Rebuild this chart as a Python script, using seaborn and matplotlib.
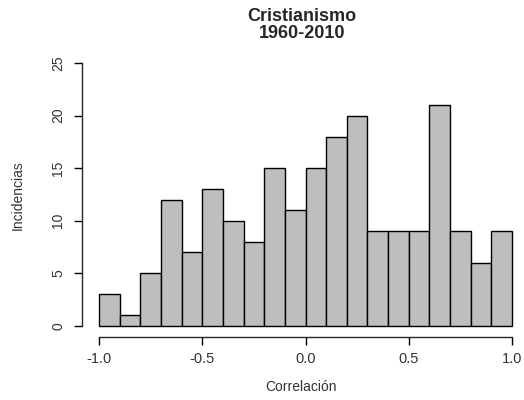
import numpy as np
import matplotlib
matplotlib.use("Agg")
import matplotlib.pyplot as plt
import seaborn as sns

bin_edges = [-1.0, -0.9, -0.8, -0.7, -0.6, -0.5, -0.4, -0.3, -0.2, -0.1, 0.0,
             0.1, 0.2, 0.3, 0.4, 0.5, 0.6, 0.7, 0.8, 0.9, 1.0]
counts = [3, 1, 5, 12, 7, 13, 10, 8, 15, 11, 15, 18, 20, 9, 9, 9, 21, 9, 6, 9]
x_ticks = [-1.0, -0.5, 0.0, 0.5, 1.0]
y_ticks = [0, 5, 10, 15, 20, 25]

centers = [(bin_edges[i] + bin_edges[i + 1]) / 2 for i in range(len(counts))]

sns.set_style("ticks")
plt.rcParams['font.family'] = ['Liberation Sans', 'DejaVu Sans']

W, H = 524, 400
fig = plt.figure(figsize=(W / 100, H / 100), dpi=100)
ax = fig.add_axes([82 / W, (H - 337) / H, (520 - 82) / W, (337 - 50) / H])

sns.histplot(x=centers, weights=counts, bins=bin_edges, color='#BEBEBE',
             edgecolor='black', linewidth=1.0, alpha=1, ax=ax)

ppu_x = (512 - 99) / 2.0
ppu_y = (326 - 63) / 25.0
ax.set_xlim(-1.0 - (99 - 82) / ppu_x, 1.0 + (520 - 512) / ppu_x)
ax.set_ylim(-(337 - 326) / ppu_y, 25 + (63 - 50) / ppu_y)

for s in ['top', 'right']:
    ax.spines[s].set_visible(False)
ax.spines['left'].set_bounds(0, 25)
ax.spines['bottom'].set_bounds(-1, 1)
ax.spines['left'].set_linewidth(1.0)
ax.spines['bottom'].set_linewidth(1.0)

ax.set_xticks(x_ticks)
ax.set_xticklabels(['-1.0', '-0.5', '0.0', '0.5', '1.0'], fontsize=10.5)
ax.set_yticks(y_ticks)
ax.set_yticklabels([str(v) for v in y_ticks], fontsize=10, rotation=90, va='center')
ax.tick_params(length=6, width=1.0, pad=5, colors='black')
ax.tick_params(axis='y', labelcolor='#333333', pad=6)
ax.tick_params(axis='x', labelcolor='#333333')

ax.set_xlabel('')
ax.set_ylabel('')
fig.text(18 / W, 1 - 195 / H, 'Incidencias', rotation=90, ha='center', va='center',
         fontsize=10, color='#333333')
fig.text(301 / W, 1 - 387 / H, 'Correlación', ha='center', va='center',
         fontsize=10, color='#333333')
fig.text(302 / W, 1 - 25 / H, 'Cristianismo\n1960-2010', ha='center', va='center',
         fontsize=13, fontweight='bold', linespacing=1.0)

fig.savefig('out.png', dpi=100)
